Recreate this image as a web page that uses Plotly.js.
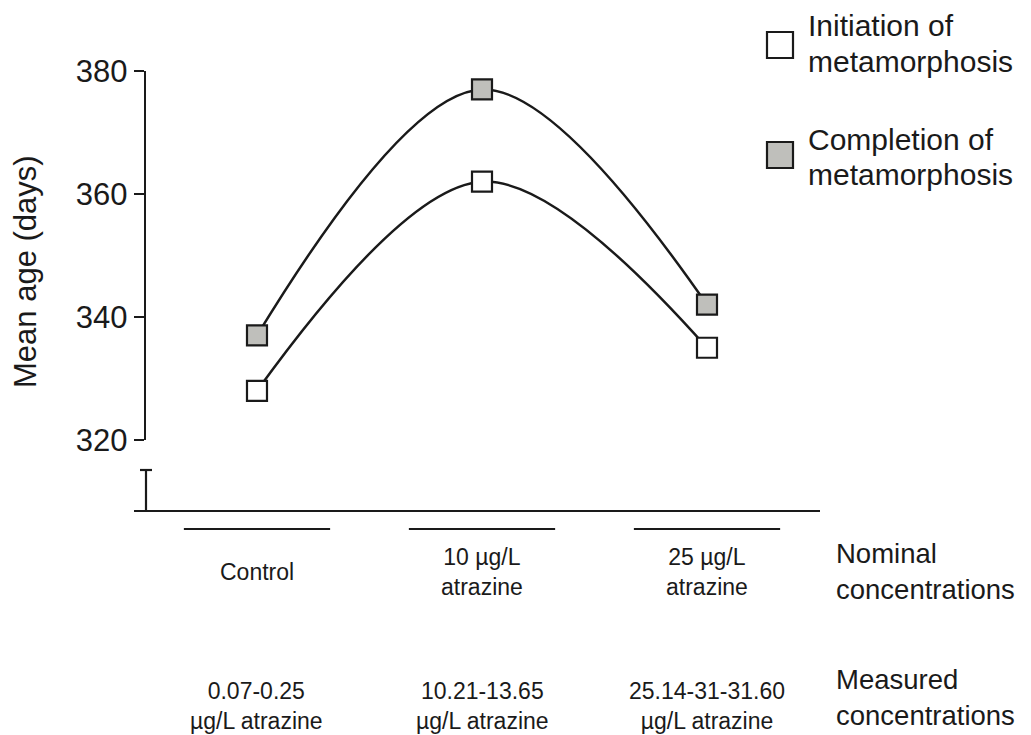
<!DOCTYPE html>
<html>
<head>
<meta charset="utf-8">
<script src="https://cdn.plot.ly/plotly-3.0.1.min.js"></script>
<style>html,body{margin:0;padding:0;background:#fff;}#chart{width:1031px;height:735px;}</style>
</head>
<body>
<div id="chart"></div>
<script>
// ---- data ----
const groupIndex = [0, 1, 2];
const nominalLabels = ["Control", "10 µg/L<br>atrazine", "25 µg/L<br>atrazine"];
const measuredLabels = ["0.07-0.25<br>µg/L atrazine", "10.21-13.65<br>µg/L atrazine", "25.14-31-31.60<br>µg/L atrazine"];
const initiationDays = [328, 362, 335];
const completionDays = [337, 377, 342];
const seriesNames = ["Initiation of metamorphosis", "Completion of metamorphosis"];
const yTicks = [320, 340, 360, 380];
const yTitle = "Mean age (days)";

// ---- layout helpers (pixel -> paper) ----
const L = 146, R = 820, T = 71, B = 440;
const W = R - L, H = B - T;
const px = x => (x - L) / W;
const py = y => (B - y) / H;

const FONT = "Liberation Sans, Arial, Helvetica, sans-serif";
const INK = "#1a1a1a";
const GRAY = "#bfbfbb";

const traces = [
  {
    x: groupIndex, y: initiationDays, name: seriesNames[0], type: "scatter", mode: "lines",
    line: {shape: "spline", smoothing: 1, color: INK, width: 2.5}, hoverinfo: "skip", showlegend: false
  },
  {
    x: groupIndex, y: completionDays, name: seriesNames[1], type: "scatter", mode: "lines",
    line: {shape: "spline", smoothing: 1, color: INK, width: 2.5}, hoverinfo: "skip", showlegend: false
  },
  {
    x: groupIndex, y: initiationDays, name: seriesNames[0], type: "scatter", mode: "markers",
    marker: {symbol: "square", size: 20, color: "#ffffff", line: {color: INK, width: 2.2}},
    cliponaxis: false, showlegend: false
  },
  {
    x: groupIndex, y: completionDays, name: seriesNames[1], type: "scatter", mode: "markers",
    marker: {symbol: "square", size: 20, color: GRAY, line: {color: INK, width: 2.2}},
    cliponaxis: false, showlegend: false
  }
];

const shapes = [
  // broken lower segment of y axis with cap
  {type: "line", xref: "paper", yref: "paper", x0: 0, x1: 0, y0: py(470), y1: py(511), line: {color: INK, width: 2.2}},
  {type: "line", xref: "paper", yref: "paper", x0: px(140), x1: px(152), y0: py(470), y1: py(470), line: {color: INK, width: 2.2}},
  // x axis baseline
  {type: "line", xref: "paper", yref: "paper", x0: px(134), x1: 1, y0: py(511), y1: py(511), line: {color: INK, width: 2.2}},
  // legend boxes
  {type: "rect", xref: "paper", yref: "paper", x0: px(767), x1: px(793), y0: py(32), y1: py(58), fillcolor: "#ffffff", line: {color: INK, width: 2.2}},
  {type: "rect", xref: "paper", yref: "paper", x0: px(767), x1: px(793), y0: py(142), y1: py(168), fillcolor: GRAY, line: {color: INK, width: 2.2}}
];
groupIndex.forEach(i => {
  shapes.push({type: "line", xref: "x", yref: "paper", x0: i - 0.325, x1: i + 0.325, y0: py(529), y1: py(529), line: {color: INK, width: 2.2}});
});

const annotations = [];
groupIndex.forEach(i => {
  annotations.push({x: i, y: py(572), xref: "x", yref: "paper", text: nominalLabels[i], showarrow: false,
    xanchor: "center", yanchor: "middle", align: "center", font: {family: FONT, size: 23, color: INK}});
  annotations.push({x: i, y: py(706), xref: "x", yref: "paper", text: measuredLabels[i], showarrow: false,
    xanchor: "center", yanchor: "middle", align: "center", font: {family: FONT, size: 23, color: INK}});
});
// right-hand row labels
annotations.push({x: px(834), y: py(571), xref: "paper", yref: "paper", text: "Nominal<br>concentrations", showarrow: false,
  xanchor: "left", yanchor: "middle", align: "left", font: {family: FONT, size: 27.5, color: INK}});
annotations.push({x: px(834), y: py(733), xref: "paper", yref: "paper", text: "Measured<br>concentrations", showarrow: false,
  xanchor: "left", yanchor: "bottom", align: "left", font: {family: FONT, size: 27.5, color: INK}});
// legend text
const legendText = [
  ["Initiation of", 26], ["metamorphosis", 61],
  ["Completion of", 139], ["metamorphosis", 174]
];
legendText.forEach(([t, y]) => annotations.push({x: px(806), y: py(y), xref: "paper", yref: "paper", text: t, showarrow: false,
  xanchor: "left", yanchor: "middle", font: {family: FONT, size: 30, color: INK}}));
// y axis title, placed to match the reference
annotations.push({x: px(25), y: py(272), xref: "paper", yref: "paper", text: yTitle, textangle: -90, showarrow: false,
  xanchor: "center", yanchor: "middle", font: {family: FONT, size: 31, color: INK}});

const layout = {
  width: 1031, height: 735,
  margin: {l: L, r: 1031 - R, t: T, b: 735 - B, pad: 0},
  paper_bgcolor: "#ffffff", plot_bgcolor: "#ffffff",
  showlegend: false,
  font: {family: FONT, color: INK},
  xaxis: {range: [-0.4933, 2.5022], visible: false, fixedrange: true},
  yaxis: {
    range: [320, 380], tickvals: yTicks, ticktext: yTicks.map(String),
    showline: true, linecolor: INK, linewidth: 2.2, ticks: "outside", ticklen: 10, tickwidth: 2.2, tickcolor: INK,
    showgrid: false, zeroline: false, tickfont: {family: FONT, size: 31, color: INK},
    automargin: false, fixedrange: true
  },
  shapes: shapes,
  annotations: annotations
};

Plotly.newPlot("chart", traces, layout, {displayModeBar: false, staticPlot: true});
</script>
</body>
</html>
